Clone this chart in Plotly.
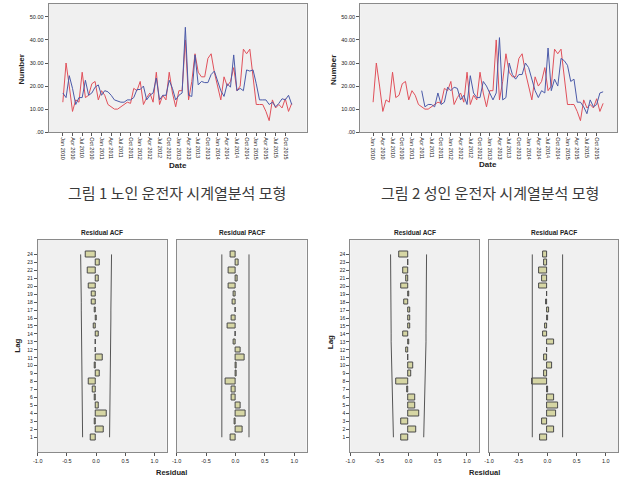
import plotly.graph_objects as go
import math

# ---------------- data ----------------
TICK_LABELS = ["Jan 2010", "Apr 2010", "Jul 2010", "Oct 2010", "Jan 2011", "Apr 2011",
               "Jul 2011", "Oct 2011", "Jan 2012", "Apr 2012", "Jul 2012", "Oct 2012",
               "Jan 2013", "Apr 2013", "Jul 2013", "Oct 2013", "Jan 2014", "Apr 2014",
               "Jul 2014", "Oct 2014", "Jan 2015", "Apr 2015", "Jul 2015", "Oct 2015"]
MONTH_INDEX = list(range(72))

OBSERVED = [13, 30, 20, 9, 14, 13, 26, 15, 16, 21, 22, 14,
            18, 16, 12, 11, 10, 10, 11, 12, 13, 12.5, 19, 18,
            22, 12, 15, 17, 13, 26, 12, 16, 14, 26, 17, 11,
            18, 18, 40, 14, 22, 34, 26, 24, 24, 32, 34, 26,
            20, 14, 24, 20, 22, 28, 18, 20, 36, 34, 36, 24,
            12, 12, 12, 9, 5, 14, 10.5, 12, 10.5, 14.5, 9, 12.5]

FIT_ELDERLY = [17, 15, 24.5, 19, 12, 15, 15, 22.5, 16, 17, 19.5, 20.5,
               16, 18, 17.5, 16, 14, 13.5, 13, 13, 14, 14, 15, 18.5,
               18.5, 20, 14, 16, 17, 23.5, 14, 16, 16, 22.5, 19, 14,
               16, 17, 45.5, 16, 15.5, 33.5, 20.5, 22, 21.5, 21.5, 25, 26.5,
               22, 18, 15.5, 21, 19.5, 33.5, 18, 19, 18, 27, 26.5, 27,
               21, 14, 14, 14, 12, 13, 11, 12.5, 14.5, 14, 16, 12]

FIT_ADULT = [None] * 15 + [18, 11, 12, 12, 11, 17, 12, 13, 19.5,
                           18, 19.5, 19, 14, 16, 12, 24.5, 17, 15, 15, 22, 20,
                           17, 14, 17, 41, 14, 15, 30, 25, 23, 25, 25, 30,
                           28, 23, 18, 15, 18, 17, 36.5, 18, 23, 20, 32, 31,
                           29, 22, 23, 13, 13, 11, 8, 14, 11, 12, 17, 17.5, 10][:57]
FIT_ADULT = FIT_ADULT + [None] * (72 - len(FIT_ADULT))

LAGS = list(range(1, 25))
ACF_ELDERLY = [-0.09, 0.13, -0.03, 0.19, 0.05, -0.03, -0.05, -0.12, 0.06, -0.03, 0.11, -0.01,
               -0.01, 0.04, -0.04, 0.005, -0.02, -0.07, -0.08, -0.13, 0.05, -0.14, 0.06, -0.17]
PACF_ELDERLY = [-0.09, 0.12, -0.01, 0.18, 0.09, -0.06, -0.07, -0.17, 0.02, 0.02, 0.15, 0.09,
                -0.03, -0.005, -0.13, -0.07, 0.01, -0.05, -0.03, -0.11, 0.04, -0.11, 0.05, -0.09]
ACF_ADULT = [-0.12, 0.13, -0.12, 0.18, 0.12, 0.12, -0.02, -0.21, 0.04, 0.08, -0.01, -0.04,
             0.01, -0.09, 0.02, 0.03, 0.03, -0.07, 0.01, -0.13, -0.04, -0.10, -0.005, -0.16]
PACF_ADULT = [-0.12, 0.11, -0.10, 0.15, 0.19, 0.11, 0.005, -0.27, -0.05, 0.08, -0.06, -0.01,
              0.11, -0.07, -0.04, 0.005, 0.03, -0.03, -0.01, -0.14, -0.09, -0.15, -0.05, -0.07]
N_ELDERLY = 72
N_ADULT = 57

# ---------------- helpers ----------------
W, H = 625, 483
def fx(px): return px / W
def fy(py): return 1 - py / H

def acf_limits(acf, n):
    out, s = [], 0.0
    for r in acf:
        out.append(1.96 * math.sqrt((1 + 2 * s) / n))
        s += r * r
    return out

RED = "#e0505a"
BLUE = "#4b5aa8"
FRAME = "#8a8a8a"
PLOTBG = "#f0f0f0"
TXT = "#222222"
BARFILL = "#d6d6a4"
BARLINE = "#4a4a4a"
LIMIT = "#555555"
FONT = "Liberation Sans, Arial, sans-serif"

fig = go.Figure()

# top line charts
fig.add_trace(go.Scatter(x=MONTH_INDEX, y=OBSERVED, mode="lines", line=dict(color=RED, width=1),
                         xaxis="x", yaxis="y", showlegend=False))
fig.add_trace(go.Scatter(x=MONTH_INDEX, y=FIT_ELDERLY, mode="lines", line=dict(color=BLUE, width=1),
                         xaxis="x", yaxis="y", showlegend=False))
fig.add_trace(go.Scatter(x=MONTH_INDEX, y=OBSERVED, mode="lines", line=dict(color=RED, width=1),
                         xaxis="x2", yaxis="y2", showlegend=False))
fig.add_trace(go.Scatter(x=MONTH_INDEX, y=FIT_ADULT, mode="lines", line=dict(color=BLUE, width=1),
                         xaxis="x2", yaxis="y2", showlegend=False))

# bottom ACF / PACF panels
panels = [
    (ACF_ELDERLY, acf_limits(ACF_ELDERLY, N_ELDERLY), "3"),
    (PACF_ELDERLY, [1.96 / math.sqrt(N_ELDERLY)] * 24, "4"),
    (ACF_ADULT, acf_limits(ACF_ADULT, N_ADULT), "5"),
    (PACF_ADULT, [1.96 / math.sqrt(N_ADULT)] * 24, "6"),
]
for vals, lim, k in panels:
    fig.add_trace(go.Scatter(x=[-v for v in lim], y=LAGS, mode="lines",
                             line=dict(color=LIMIT, width=1), xaxis="x" + k, yaxis="y" + k,
                             showlegend=False))
    fig.add_trace(go.Scatter(x=lim, y=LAGS, mode="lines",
                             line=dict(color=LIMIT, width=1), xaxis="x" + k, yaxis="y" + k,
                             showlegend=False))
    fig.add_trace(go.Bar(x=vals, y=LAGS, orientation="h", width=0.7,
                         marker=dict(color=BARFILL, line=dict(color=BARLINE, width=1)),
                         xaxis="x" + k, yaxis="y" + k, showlegend=False))

tickfont_small = dict(family=FONT, size=5.5, color=TXT)
frame = dict(showline=True, mirror=True, linecolor=FRAME, linewidth=1,
             showgrid=False, zeroline=False, ticks="outside", ticklen=3,
             tickcolor="#555", tickwidth=1)

top_x = dict(tickvals=MONTH_INDEX[::3], ticktext=TICK_LABELS, tickangle=90,
             tickfont=tickfont_small, **frame)
top_y = dict(range=[0, 55.6], tickvals=[0, 10, 20, 30, 40, 50],
             ticktext=[".00", "10.00", "20.00", "30.00", "40.00", "50.00"],
             tickfont=tickfont_small, **frame)

res_x = dict(range=[-1, 1.21], tickvals=[-1, -0.5, 0, 0.5, 1],
             ticktext=["-1.0", "-0.5", "0.0", "0.5", "1.0"],
             tickfont=dict(family=FONT, size=5.5, color=TXT), **frame)
lag_y = dict(range=[-0.875, 25.875], tickvals=LAGS, ticktext=[str(l) for l in LAGS],
             tickfont=dict(family=FONT, size=5, color=TXT), **frame)
lag_y_nolabel = dict(lag_y)
lag_y_nolabel.update(showticklabels=False, ticks="")

bot_dom = [fy(455), fy(241)]
layout = dict(
    width=W, height=H, margin=dict(l=0, r=0, t=0, b=0),
    paper_bgcolor="white", plot_bgcolor=PLOTBG, bargap=0,
    xaxis=dict(domain=[fx(44), fx(304)], range=[-4.4, 75.6], anchor="y", **top_x),
    yaxis=dict(domain=[fy(133), fy(4)], anchor="x", **top_y),
    xaxis2=dict(domain=[fx(358), fx(617)], range=[-4.0, 75.3], anchor="y2", **top_x),
    yaxis2=dict(domain=[fy(133), fy(4)], anchor="x2", **top_y),
    xaxis3=dict(domain=[fx(33), fx(163)], anchor="y3", **res_x),
    yaxis3=dict(domain=bot_dom, anchor="x3", **lag_y),
    xaxis4=dict(domain=[fx(173), fx(304)], anchor="y4", **res_x),
    yaxis4=dict(domain=bot_dom, anchor="x4", **lag_y_nolabel),
    xaxis5=dict(domain=[fx(348), fx(478)], anchor="y5", **res_x),
    yaxis5=dict(domain=bot_dom, anchor="x5", **lag_y),
    xaxis6=dict(domain=[fx(488), fx(618)], anchor="y6", **res_x),
    yaxis6=dict(domain=bot_dom, anchor="x6", **lag_y_nolabel),
)
fig.update_layout(**layout)

def ann(text, px, py, size, bold=True, angle=0, family=FONT, color=TXT):
    fig.add_annotation(text=("<b>%s</b>" % text) if bold else text,
                       x=fx(px), y=fy(py), xref="paper", yref="paper",
                       showarrow=False, textangle=angle, xanchor="center", yanchor="middle",
                       font=dict(family=family, size=size, color=color))

ann("Number", 17, 70, 8, angle=-90)
ann("Number", 331, 70, 8, angle=-90)
ann("Date", 174, 167, 8)
ann("Date", 487, 166, 8)
KFONT = "Noto Sans CJK KR, sans-serif"
ann("그림 1 노인 운전자 시계열분석 모형", 173.5, 194, 15, bold=False, family=KFONT, color="#3a3a3a")
ann("그림 2 성인 운전자 시계열분석 모형", 489, 194, 15, bold=False, family=KFONT, color="#3a3a3a")
ann("Residual ACF", 98, 234, 6.5)
ann("Residual PACF", 238.5, 234, 6.5)
ann("Residual ACF", 413, 234, 6.5)
ann("Residual PACF", 553, 234, 6.5)
ann("Residual", 168, 475, 7.5)
ann("Residual", 483, 475, 7.5)
ann("Lag", 13, 348, 8, angle=-90)
ann("Lag", 328, 344, 8, angle=-90)

fig.write_html("out.html")
